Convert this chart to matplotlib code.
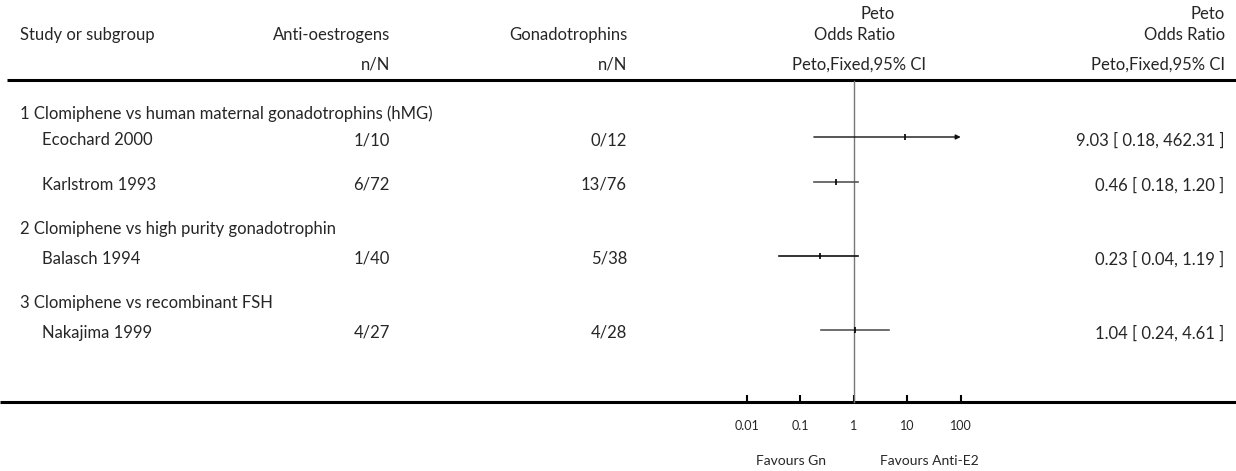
import matplotlib.pyplot as plt

# forest plot: anti-oestrogens vs gonadotrophins, Peto odds ratio
groups = [
    "1 Clomiphene vs human maternal gonadotrophins (hMG)",
    "2 Clomiphene vs high purity gonadotrophin",
    "3 Clomiphene vs recombinant FSH",
]
studies = ["Ecochard 2000", "Karlstrom 1993", "Balasch 1994", "Nakajima 1999"]
study_group = [0, 0, 1, 2]
anti_events = ["1/10", "6/72", "1/40", "4/27"]
gonad_events = ["0/12", "13/76", "5/38", "4/28"]
odds_ratio = [9.03, 0.46, 0.23, 1.04]
ci_low = [0.18, 0.18, 0.04, 0.24]
ci_high = [462.31, 1.20, 1.19, 4.61]

axis_ticks = [0.01, 0.1, 1, 10, 100]
axis_labels = ["0.01", "0.1", "1", "10", "100"]

W, H = 1236, 471
FONT = "Lato"
TXT = "#262626"
FS = 12

# row layout in pixel units (top = 0)
group_y = [114, 229, 303]
study_y = [140, 185, 259, 333]

fig = plt.figure(figsize=(W / 100, H / 100), dpi=100)
base = fig.add_axes([0, 0, 1, 1])
base.set_xlim(0, W)
base.set_ylim(H, 0)
base.axis("off")


def txt(x, y, s, ha="left", size=FS):
    base.text(x, y, s, ha=ha, va="center", fontsize=size, color=TXT,
              family=FONT, fontweight="normal")


# header
txt(20, 35, "Study or subgroup")
txt(390, 35, "Anti-oestrogens", ha="right")
txt(627, 35, "Gonadotrophins", ha="right")
txt(390, 65, "n/N", ha="right")
txt(627, 65, "n/N", ha="right")
txt(895, 14, "Peto", ha="right")
txt(895, 35, "Odds Ratio", ha="right")
txt(926, 65, "Peto,Fixed,95% CI", ha="right")
txt(1225, 14, "Peto", ha="right")
txt(1225, 35, "Odds Ratio", ha="right")
txt(1225, 65, "Peto,Fixed,95% CI", ha="right")

base.plot([7, W], [79.5, 79.5], color="black", lw=2.2, solid_capstyle="butt")
base.plot([0, W], [402, 402], color="black", lw=2.2, solid_capstyle="butt")

for name, y in zip(groups, group_y):
    txt(20, y, name)

for i, name in enumerate(studies):
    y = study_y[i]
    txt(42, y, name)
    txt(390, y, anti_events[i], ha="right")
    txt(627, y, gonad_events[i], ha="right")
    txt(1224, y, f"{odds_ratio[i]:.2f} [ {ci_low[i]:.2f}, {ci_high[i]:.2f} ]", ha="right")

txt(826, 461, "Favours Gn", ha="right", size=10)
txt(880, 461, "Favours Anti-E2", size=10)

# log-scale panel for the estimates
left = 746.7 / W
width = 214.0 / W
ax = fig.add_axes([left, 0, width, 1])
ax.set_xscale("log")
ax.set_xlim(axis_ticks[0], axis_ticks[-1])
ax.set_ylim(H, 0)
ax.patch.set_alpha(0)
for side in ["top", "left", "right"]:
    ax.spines[side].set_visible(False)
ax.spines["bottom"].set_position(("data", 402))
ax.spines["bottom"].set_color("none")
ax.set_yticks([])
ax.set_xticks(axis_ticks)
ax.set_xticklabels(axis_labels)
ax.minorticks_off()
ax.tick_params(axis="x", direction="in", length=4.7, width=1.5, pad=13,
               labelsize=9, labelcolor=TXT)
for lab in ax.get_xticklabels():
    lab.set_family(FONT)

ax.plot([1, 1], [81, 402], color="#777777", lw=1, clip_on=False)

line_colors = ["#111111", "#555555", "#111111", "#555555"]
xmax = axis_ticks[-1]
for i in range(len(studies)):
    y = study_y[i] - 3
    lo, hi = ci_low[i], ci_high[i]
    if hi > xmax:
        ax.annotate("", xy=(xmax, y), xytext=(lo, y),
                    arrowprops=dict(arrowstyle="-|>", color=line_colors[i],
                                    lw=1, mutation_scale=7, shrinkA=0, shrinkB=0))
    else:
        ax.plot([lo, hi], [y, y], color=line_colors[i], lw=1.2, clip_on=False)
    ax.plot(odds_ratio[i], y, marker="|", markersize=5, mew=1.2,
            color="black", clip_on=False)

fig.savefig("out.png", dpi=100)
